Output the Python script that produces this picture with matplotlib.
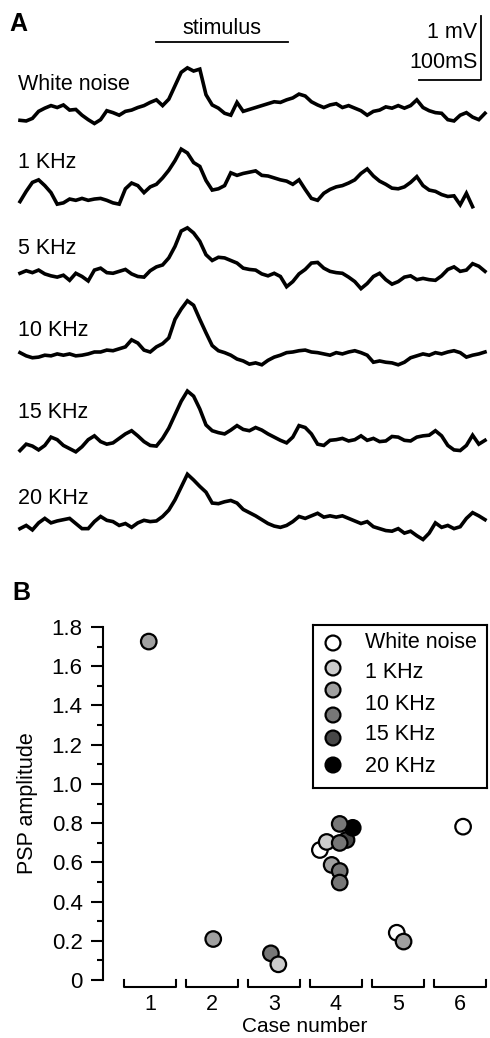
import numpy as np
import matplotlib.pyplot as plt

plt.rcParams['font.family'] = ['Liberation Sans', 'DejaVu Sans']

W, H = 490, 1038

# ---- panel A: averaged PSP traces (mV), one sample every 10 ms ----
t_ms = np.arange(0, 760, 10)
trace_names = ["White noise", "1 KHz", "5 KHz", "10 KHz", "15 KHz", "20 KHz"]

white_noise = [-0.13, -0.14, -0.10, 0.01, 0.06, 0.10, 0.07, 0.11, 0.03, 0.04,
               -0.05, -0.12, -0.18, -0.12, 0.02, -0.01, -0.05, 0.01, 0.03, 0.07,
               0.10, 0.15, 0.19, 0.10, 0.20, 0.41, 0.62, 0.69, 0.64, 0.67,
               0.27, 0.11, 0.06, -0.02, -0.05, 0.15, 0.01, 0.04, 0.07, 0.10,
               0.13, 0.16, 0.15, 0.19, 0.22, 0.28, 0.25, 0.16, 0.11, 0.07,
               0.11, 0.13, 0.07, 0.10, 0.06, 0.02, -0.05, 0.01, 0.03, 0.08,
               0.06, 0.10, 0.06, 0.10, 0.19, 0.07, 0.02, -0.01, -0.02, -0.12,
               -0.14, -0.05, -0.01, -0.08, -0.12, -0.02]
khz_1 = [-0.08, 0.08, 0.22, 0.26, 0.17, 0.06, -0.12, -0.10, -0.04, -0.06,
         -0.03, -0.06, -0.04, -0.03, -0.06, -0.10, -0.12, 0.12, 0.21, 0.17,
         0.06, 0.15, 0.19, 0.29, 0.41, 0.56, 0.74, 0.68, 0.53, 0.47,
         0.25, 0.10, 0.12, 0.17, 0.37, 0.33, 0.36, 0.38, 0.40, 0.33,
         0.32, 0.29, 0.26, 0.24, 0.19, 0.26, 0.11, -0.03, -0.06, 0.05,
         0.11, 0.15, 0.17, 0.21, 0.26, 0.36, 0.43, 0.32, 0.24, 0.19,
         0.13, 0.12, 0.15, 0.22, 0.31, 0.17, 0.10, 0.08, 0.03, 0.00,
         0.01, -0.13, 0.05, -0.16]
khz_5 = [0.00, 0.04, 0.01, 0.05, -0.01, -0.04, -0.06, -0.03, -0.11, 0.00,
         -0.05, -0.12, 0.05, 0.08, 0.01, 0.00, 0.03, 0.06, -0.01, -0.05,
         -0.06, 0.04, 0.10, 0.13, 0.24, 0.42, 0.66, 0.71, 0.63, 0.50,
         0.29, 0.20, 0.25, 0.24, 0.20, 0.16, 0.08, 0.06, 0.05, -0.01,
         -0.04, 0.00, -0.05, -0.21, -0.13, -0.01, 0.06, 0.16, 0.17, 0.08,
         0.03, 0.01, 0.00, -0.06, -0.13, -0.24, -0.16, -0.05, 0.00, -0.10,
         -0.17, -0.13, -0.06, -0.04, -0.10, -0.08, -0.10, -0.11, -0.04, 0.06,
         0.10, 0.03, 0.05, 0.15, 0.11, 0.03]
khz_10 = [0.02, -0.03, -0.06, -0.05, -0.02, -0.03, 0.00, -0.02, 0.00, -0.03,
          -0.02, 0.00, 0.03, 0.03, 0.06, 0.05, 0.08, 0.11, 0.22, 0.17,
          0.06, 0.03, 0.11, 0.16, 0.25, 0.54, 0.70, 0.83, 0.76, 0.54,
          0.33, 0.13, 0.05, 0.02, -0.02, -0.08, -0.11, -0.16, -0.14, -0.17,
          -0.10, -0.05, -0.02, 0.02, 0.03, 0.05, 0.06, 0.03, 0.02, 0.00,
          -0.02, 0.02, 0.00, 0.03, 0.05, 0.02, -0.02, -0.13, -0.11, -0.13,
          -0.14, -0.17, -0.13, -0.06, -0.03, 0.00, -0.02, 0.02, 0.00, 0.03,
          0.05, 0.02, -0.05, -0.02, 0.00, 0.03]
khz_15 = [-0.11, -0.01, -0.04, -0.10, -0.03, 0.10, 0.06, -0.03, -0.08, -0.13,
          -0.05, 0.06, 0.12, 0.03, -0.01, 0.01, 0.08, 0.15, 0.20, 0.12,
          0.03, -0.03, -0.04, 0.08, 0.24, 0.45, 0.66, 0.82, 0.74, 0.54,
          0.29, 0.20, 0.17, 0.15, 0.21, 0.28, 0.22, 0.20, 0.25, 0.21,
          0.15, 0.10, 0.05, 0.01, 0.10, 0.28, 0.25, 0.15, -0.01, -0.03,
          0.05, 0.06, 0.08, 0.04, 0.06, 0.12, 0.05, 0.08, 0.03, 0.04,
          0.11, 0.10, 0.05, 0.04, 0.10, 0.12, 0.13, 0.20, 0.12, -0.03,
          -0.10, -0.11, -0.03, 0.13, -0.01, 0.05]
khz_20 = [-0.08, -0.03, -0.10, 0.01, 0.08, 0.01, 0.04, 0.06, 0.08, 0.00,
          -0.08, -0.08, 0.03, 0.11, 0.05, 0.03, -0.03, 0.00, -0.06, 0.01,
          0.05, 0.03, 0.04, 0.11, 0.21, 0.37, 0.57, 0.77, 0.68, 0.58,
          0.49, 0.32, 0.31, 0.34, 0.36, 0.32, 0.22, 0.17, 0.12, 0.06,
          0.00, -0.04, -0.06, -0.03, 0.03, 0.11, 0.08, 0.12, 0.16, 0.10,
          0.12, 0.10, 0.12, 0.08, 0.04, 0.00, 0.03, -0.05, -0.08, -0.11,
          -0.12, -0.08, -0.15, -0.12, -0.19, -0.25, -0.15, 0.01, -0.06, -0.03,
          -0.08, -0.05, 0.08, 0.17, 0.12, 0.06]
traces = [white_noise, khz_1, khz_5, khz_10, khz_15, khz_20]
stim_on, stim_off = 219, 432

# ---- panel B: PSP amplitude per case ----
case_pos = [0.98, 2.02, 2.95, 3.07, 3.74, 3.85, 4.17, 4.27, 3.93, 4.06, 4.06,
            4.06, 4.06, 4.98, 5.09, 6.05]
psp_amp = [1.726, 0.209, 0.136, 0.080, 0.663, 0.704, 0.714, 0.776, 0.587,
           0.796, 0.699, 0.556, 0.497, 0.241, 0.196, 0.782]
shade_idx = [2, 2, 3, 1, 0, 1, 4, 5, 2, 3, 3, 3, 3, 0, 2, 0]
shades = ['white', '#cccccc', '#a0a0a0', '#777777', '#474747', 'black']
legend_labels = ["White noise", "1 KHz", "10 KHz", "15 KHz", "20 KHz"]
cases = [1, 2, 3, 4, 5, 6]

FS = 15.5

fig = plt.figure(figsize=(W / 100, H / 100), dpi=100)

# panel A in ms / mV, 0.62 px per ms and 64 px per mV
ax_a = fig.add_axes([0, 1 - 590 / H, 1, 590 / H])
ax_a.set_xlim(-20 / 0.62, 470 / 0.62)
ax_a.set_ylim(-590 / 64, 0)
ax_a.axis('off')

offsets = [-1.75, -3.07, -4.27, -5.53, -6.93, -8.18]
label_y = [-85 / 64, -162 / 64, -248 / 64, -330 / 64, -413 / 64, -498 / 64]
for name, tr, off, ly in zip(trace_names, traces, offsets, label_y):
    ax_a.plot(t_ms[:len(tr)], np.array(tr) + off, color='black', lw=2.6,
              solid_joinstyle='miter')
    ax_a.text(-3, ly, name, fontsize=FS, ha='left', va='center')

ax_a.plot([stim_on, stim_off], [-42 / 64, -42 / 64], color='black', lw=1.3)
ax_a.text((stim_on + stim_off) / 2, -28 / 64, "stimulus", fontsize=FS,
          ha='center', va='center')

# scale bar: 1 mV x 100 ms
sx, sy = 744, -80 / 64
ax_a.plot([sx - 100, sx, sx], [sy, sy, sy + 1], color='black', lw=1.3)
ax_a.text(sx - 6, -33 / 64, "1 mV", fontsize=FS, ha='right', va='center')
ax_a.text(sx - 6, -62 / 64, "100mS", fontsize=FS, ha='right', va='center')

fig.text(9 / W, 1 - 24 / H, "A", fontsize=18, fontweight='bold', va='center')
fig.text(12 / W, 1 - 593 / H, "B", fontsize=18, fontweight='bold', va='center')

# panel B
ax_b = fig.add_axes([103 / W, 1 - 1000 / H, 387 / W, 380 / H])
ax_b.set_xlim(0.242, 6.484)
ax_b.set_ylim(-0.102, 1.836)
for s in ['top', 'right', 'bottom']:
    ax_b.spines[s].set_visible(False)
ax_b.spines['left'].set_bounds(0, 1.8)
ax_b.spines['left'].set_linewidth(1.5)
yt = [0, 0.2, 0.4, 0.6, 0.8, 1.0, 1.2, 1.4, 1.6, 1.8]
ax_b.set_yticks(yt)
ax_b.set_yticklabels(["0"] + [f"{v:.1f}" for v in yt[1:]])
ax_b.set_yticks(np.arange(0.1, 1.8, 0.2), minor=True)
ax_b.tick_params(axis='y', which='major', length=8.6, width=1.5, pad=6,
                 labelsize=16)
ax_b.tick_params(axis='y', which='minor', length=4.3, width=1.5)
ax_b.set_xticks(cases)
ax_b.set_xticklabels([str(c) for c in cases])
ax_b.tick_params(axis='x', length=0, pad=-4, labelsize=15.5)

for c in cases:
    ax_b.plot([c - 0.42, c - 0.42, c + 0.42, c + 0.42],
              [0, -0.036, -0.036, 0], color='black', lw=1.5, clip_on=False)

ax_b.scatter(case_pos, psp_amp, s=125, c=[shades[i] for i in shade_idx],
             edgecolors='black', linewidths=1.6, zorder=3, clip_on=False)

fig.text(27 / W, 1 - 803 / H, "PSP amplitude", fontsize=FS, rotation=90,
         ha='center', va='center')
fig.text(305 / W, 1 - 1027 / H, "Case number", fontsize=15,
         ha='center', va='center')

# legend drawn by hand: six shades, five labels
ax_l = fig.add_axes([313 / W, 1 - 788 / H, 174 / W, 163 / H])
ax_l.set_xlim(0, 174)
ax_l.set_ylim(163, 0)
ax_l.set_xticks([])
ax_l.set_yticks([])
for s in ax_l.spines.values():
    s.set_linewidth(1.5)
mark_y = [18, 43, 65, 90, 113, 140]
ax_l.scatter([20] * len(shades), mark_y, s=115, c=shades,
             edgecolors='black', linewidths=1.6)
for lab, ly in zip(legend_labels, [18, 48, 80, 110, 142]):
    ax_l.text(52, ly, lab, fontsize=FS, ha='left', va='center')

fig.savefig("out.png", dpi=100)
